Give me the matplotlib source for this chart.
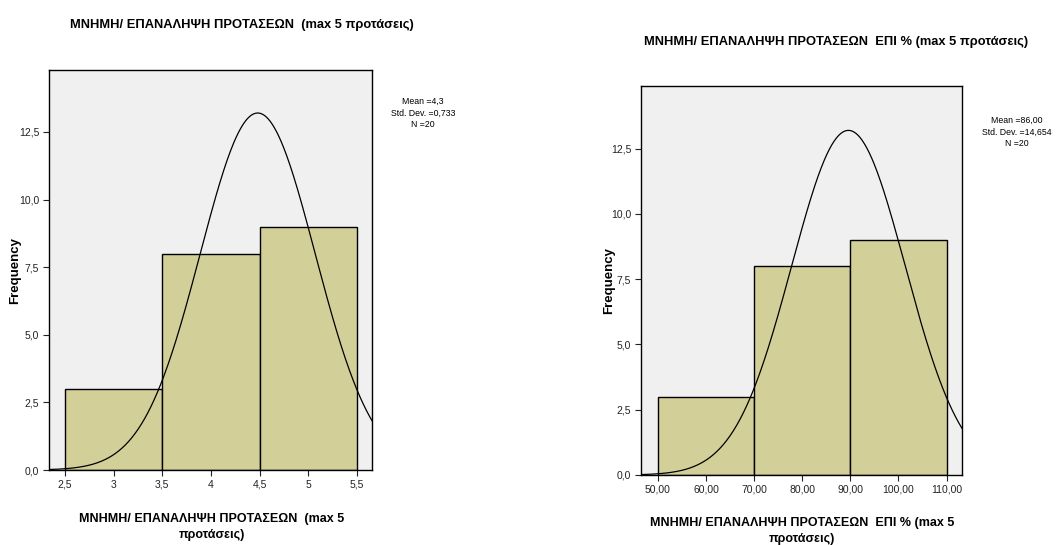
import numpy as np
import matplotlib.pyplot as plt
from matplotlib.ticker import FuncFormatter

# dados (histogramas SPSS)
edges_a = [2.5, 3.5, 4.5, 5.5]
counts_a = [3, 8, 9]
xticks_a = [2.5, 3, 3.5, 4, 4.5, 5, 5.5]
xticklabels_a = ['2,5', '3', '3,5', '4', '4,5', '5', '5,5']

edges_b = [50, 70, 90, 110]
counts_b = [3, 8, 9]
xticks_b = [50, 60, 70, 80, 90, 100, 110]
xticklabels_b = ['50,00', '60,00', '70,00', '80,00', '90,00', '100,00', '110,00']

yticks = [0, 2.5, 5, 7.5, 10, 12.5]

# curva normal como aparece no desenho (pico, centro, largura)
curve_a = dict(center=4.48, sd=0.59, peak=13.2)
curve_b = dict(center=89.6, sd=11.8, peak=13.2)

stats_a = 'Mean =4,3\nStd. Dev. =0,733\nN =20'
stats_b = 'Mean =86,00\nStd. Dev. =14,654\nN =20'

title_a = 'ΜΝΗΜΗ/ ΕΠΑΝΑΛΗΨΗ ΠΡΟΤΑΣΕΩΝ  (max 5 προτάσεις)'
title_b = 'ΜΝΗΜΗ/ ΕΠΑΝΑΛΗΨΗ ΠΡΟΤΑΣΕΩΝ  ΕΠΙ % (max 5 προτάσεις)'
xlabel_a = 'ΜΝΗΜΗ/ ΕΠΑΝΑΛΗΨΗ ΠΡΟΤΑΣΕΩΝ  (max 5\nπροτάσεις)'
xlabel_b = 'ΜΝΗΜΗ/ ΕΠΑΝΑΛΗΨΗ ΠΡΟΤΑΣΕΩΝ  ΕΠΙ % (max 5\nπροτάσεις)'

bar_color = '#d3cf99'
bg_color = '#f0f0f0'
plt.rcParams['font.family'] = ['Liberation Sans', 'DejaVu Sans']

fig = plt.figure(figsize=(10.57, 5.45), dpi=100)
W, H = 1057, 545


def px(x, y):
    return x / W, 1 - y / H


def draw(rect, edges, counts, xticks, xtl, xlim, ylim, curve):
    ax = fig.add_axes(rect)
    ax.set_facecolor(bg_color)
    widths = np.diff(edges)
    ax.bar(edges[:-1], counts, width=widths, align='edge', color=bar_color,
           edgecolor='black', linewidth=1.0)
    xs = np.linspace(xlim[0], xlim[1], 400)
    ys = curve['peak'] * np.exp(-0.5 * ((xs - curve['center']) / curve['sd']) ** 2)
    ax.plot(xs, ys, color='black', linewidth=0.9)
    ax.set_xlim(*xlim)
    ax.set_ylim(*ylim)
    ax.set_xticks(xticks)
    ax.set_xticklabels(xtl)
    ax.set_yticks(yticks)
    ax.yaxis.set_major_formatter(FuncFormatter(lambda v, p: f'{v:.1f}'.replace('.', ',')))
    ax.tick_params(direction='out', length=4, width=0.8, labelsize=7.5,
                   colors='#222222', pad=3)
    for s in ax.spines.values():
        s.set_linewidth(1.0)
    return ax


# painel esquerdo
l, b = px(49, 470)
r, t = px(372, 70)
draw([l, b, r - l, t - b], edges_a, counts_a, xticks_a, xticklabels_a,
     (2.336, 5.654), (0, 14.79), curve_a)

# painel direito
l, b = px(641, 475)
r, t = px(962, 86)
draw([l, b, r - l, t - b], edges_b, counts_b, xticks_b, xticklabels_b,
     (46.5, 113.2), (0, 14.9), curve_b)

# textos
fig.text(*px(242, 25), title_a, ha='center', va='center', fontsize=9.3, fontweight='bold')
fig.text(*px(836, 42), title_b, ha='center', va='center', fontsize=9.3, fontweight='bold')
fig.text(*px(423, 113), stats_a, ha='center', va='center', fontsize=6.3, linespacing=1.35)
fig.text(*px(1017, 132), stats_b, ha='center', va='center', fontsize=6.3, linespacing=1.35)
fig.text(*px(212, 527), xlabel_a, ha='center', va='center', fontsize=9,
         fontweight='bold', linespacing=1.45)
fig.text(*px(802, 531), xlabel_b, ha='center', va='center', fontsize=9,
         fontweight='bold', linespacing=1.45)
fig.text(*px(15, 270), 'Frequency', ha='center', va='center', rotation=90,
         fontsize=9.5, fontweight='bold')
fig.text(*px(609, 281), 'Frequency', ha='center', va='center', rotation=90,
         fontsize=9.5, fontweight='bold')

plt.savefig('out.png', dpi=100)
